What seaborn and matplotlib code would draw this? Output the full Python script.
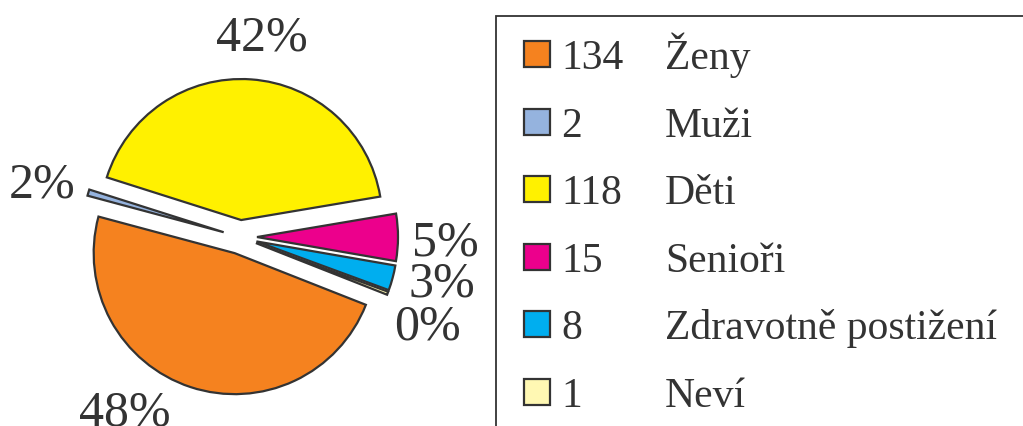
import numpy as np
import matplotlib
matplotlib.use("Agg")
import matplotlib.pyplot as plt
from matplotlib.patches import Rectangle
import seaborn as sns

# Respondent groups
categories = ["Ženy", "Muži", "Děti", "Senioři", "Zdravotně postižení", "Neví"]
counts = [134, 2, 118, 15, 8, 1]
pct_labels = ["48%", "2%", "42%", "5%", "3%", "0%"]
hex_colors = ["#F5821F", "#95B3DE", "#FFF100", "#EC008C", "#00AEEF", "#FFF8B3"]

sns.set_theme(style="white")
plt.rcParams["font.family"] = ["Liberation Serif", "DejaVu Serif"]
ink = "#333333"
palette = sns.color_palette(hex_colors)

W, H = 1023, 427
fig = plt.figure(figsize=(W / 100, H / 100), dpi=100)
ax = fig.add_axes([0, 0, 1, 1])

cx, cy, R = 240, 189, 141
start = -21.5
# every slice pulled out from the centre by the same gap (axis units)
gap = 17
wedges, _ = ax.pie(
    counts,
    colors=palette,
    startangle=start,
    counterclock=False,
    explode=[gap] * len(counts),
    radius=R,
    center=(cx, cy),
    frame=True,
    wedgeprops=dict(edgecolor=ink, linewidth=1.6, joinstyle="miter"),
)

# percentage labels around the pie
label_angles = [235.9, 163.6, 83.8, 0.1, -11.6, -24.1]
label_r = 1.46 * R
for txt, ang in zip(pct_labels, label_angles):
    a = np.deg2rad(ang)
    ax.text(cx + label_r * np.cos(a), cy + label_r * np.sin(a) - 17.5, txt,
            ha="center", va="baseline", fontsize=36, color=ink)

# legend panel
ax.add_patch(Rectangle((496, -20), 600, H - 17 + 20, fill=False,
                       edgecolor=ink, linewidth=1.3))
row_top, row_gap, sq = H - 55, 67.6, 26
for i, (name, n) in enumerate(zip(categories, counts)):
    y = row_top - i * row_gap
    ax.add_patch(Rectangle((524, y - sq / 2), sq, sq, facecolor=palette[i],
                           edgecolor=ink, linewidth=1.6))
    ax.text(561, y - 14, str(n), ha="left", va="baseline", fontsize=30, color=ink)
    ax.text(665, y - 14, name, ha="left", va="baseline", fontsize=30, color=ink)

ax.set_xlim(0, W)
ax.set_ylim(0, H)
ax.set_aspect("equal")
ax.axis("off")

fig.savefig("out.png", dpi=100)
